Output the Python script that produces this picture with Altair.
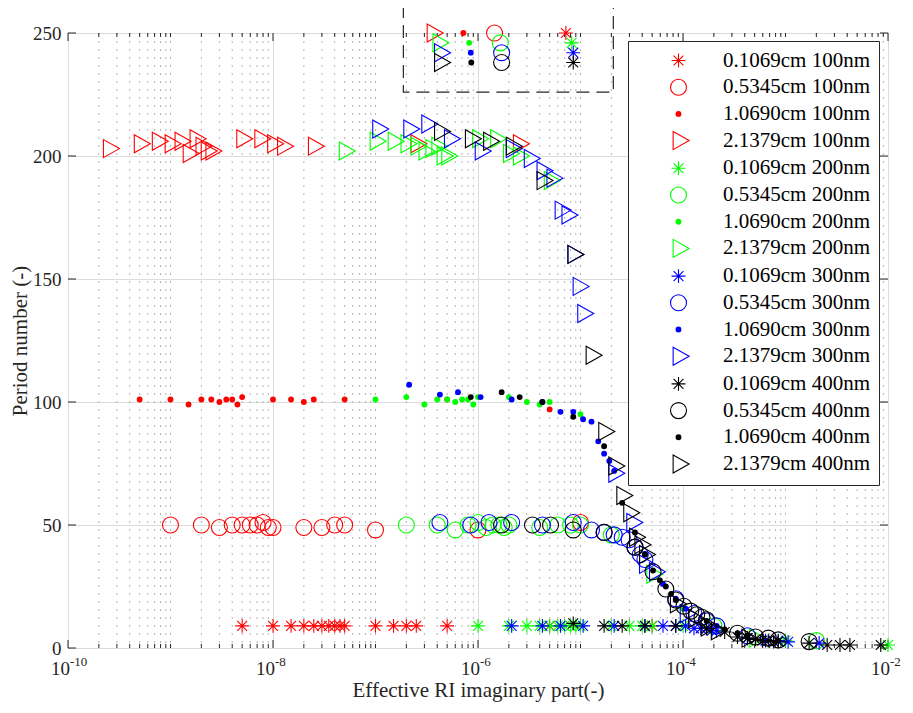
import altair as alt
import pandas as pd

# ---------------- data ----------------
series_names = [
    "0.1069cm 100nm", "0.5345cm 100nm", "1.0690cm 100nm", "2.1379cm 100nm",
    "0.1069cm 200nm", "0.5345cm 200nm", "1.0690cm 200nm", "2.1379cm 200nm",
    "0.1069cm 300nm", "0.5345cm 300nm", "1.0690cm 300nm", "2.1379cm 300nm",
    "0.1069cm 400nm", "0.5345cm 400nm", "1.0690cm 400nm", "2.1379cm 400nm",
]
series_colors = [
    "#ff0000", "#ff0000", "#ff0000", "#ff0000",
    "#00ff00", "#00ff00", "#00ff00", "#00ff00",
    "#0000ff", "#0000ff", "#0000ff", "#0000ff",
    "#000000", "#000000", "#000000", "#000000",
]

# 100 nm (red)
r_star_x = [5e-9, 1e-8, 1.5e-8, 2e-8, 2.5e-8, 3e-8, 3.5e-8, 4e-8, 4.5e-8, 5e-8, 1e-7, 1.5e-7, 2e-7, 2.5e-7, 5e-7, 5e-6, 5e-5]
r_star_y = [9, 9, 9, 9, 9, 9, 9, 9, 9, 9, 9, 9, 9, 9, 9, 9, 9]
r_circ_x = [1e-9, 2e-9, 3e-9, 4e-9, 5e-9, 6e-9, 7e-9, 8e-9, 9e-9, 1e-8, 2e-8, 3e-8, 4e-8, 5e-8, 1e-7, 1e-6, 1e-5]
r_circ_y = [50, 50, 49, 50, 50, 50, 50, 51, 49, 49, 49, 49, 50, 50, 48, 48, 51]
r_dot_x = [5e-10, 1e-9, 1.5e-9, 2e-9, 2.5e-9, 3e-9, 3.5e-9, 4e-9, 4.5e-9, 5e-9, 1e-8, 1.5e-8, 2e-8, 2.5e-8, 5e-8, 5e-7, 5e-6]
r_dot_y = [101, 101, 99, 101, 101, 100, 101, 101, 99, 102, 101, 101, 100, 101, 101, 101, 97]
r_tri_x = [2.5e-10, 5e-10, 7.5e-10, 1e-9, 1.25e-9, 1.5e-9, 1.75e-9, 2e-9, 2.25e-9, 2.5e-9, 5e-9, 7.5e-9, 1e-8, 1.25e-8, 2.5e-8, 2.5e-7, 2.5e-6]
r_tri_y = [203, 205, 206, 205, 206, 201, 207, 204, 202, 202, 207, 207, 205, 204, 204, 205, 205]

# 200 nm (green)
g_star_x = [1e-6, 2e-6, 3e-6, 4e-6, 5e-6, 6e-6, 7e-6, 8e-6, 9e-6, 1e-5, 2e-5, 3e-5, 4e-5, 5e-5, 1e-4, 1e-3, 1e-2]
g_star_y = [9, 9, 9, 9, 9, 9, 9, 9, 9, 9, 9, 9, 9, 9, 9, 3, 1.2]
g_circ_x = [2e-7, 4e-7, 6e-7, 8e-7, 1e-6, 1.2e-6, 1.4e-6, 1.6e-6, 1.8e-6, 2e-6, 4e-6, 6e-6, 8e-6, 1e-5, 2e-5, 2e-4, 2e-3]
g_circ_y = [50, 50, 48, 50, 51, 49, 50, 50, 49, 50, 49, 50, 50, 50, 46, 9, 3]
g_dot_x = [1e-7, 2e-7, 3e-7, 4e-7, 5e-7, 6e-7, 7e-7, 8e-7, 9e-7, 1e-6, 2e-6, 3e-6, 4e-6, 5e-6, 1e-5, 1e-4, 1e-3]
g_dot_y = [101, 102, 99, 101, 101, 100, 101, 101, 99, 102, 102, 100, 99, 100, 95, 16, 3]
g_tri_x = [5e-8, 1e-7, 1.5e-7, 2e-7, 2.5e-7, 3e-7, 3.5e-7, 4e-7, 4.5e-7, 5e-7, 1e-6, 1.5e-6, 2e-6, 2.5e-6, 5e-6, 5e-5, 5e-4]
g_tri_y = [202, 206, 206, 205, 204, 202, 203, 204, 200, 200, 207, 207, 201, 200, 190, 30, 4]

# 300 nm (blue)
b_star_x = [2.13e-6, 4.25e-6, 6.38e-6, 1.06e-5, 2.13e-5, 4.25e-5, 6.38e-5, 8.5e-5, 1.06e-4, 1.28e-4, 1.49e-4, 1.7e-4, 1.91e-4, 2.13e-4, 4.25e-4, 6.38e-4, 8.5e-4, 1.06e-3, 2.13e-3]
b_star_y = [9, 9, 9, 9, 9, 9, 9, 9, 9, 8, 8, 8, 7, 7, 4, 3, 3, 2.5, 2]
b_circ_x = [4.25e-7, 8.5e-7, 1.28e-6, 2.13e-6, 4.25e-6, 8.5e-6, 1.28e-5, 1.7e-5, 2.13e-5, 2.55e-5, 2.98e-5, 3.4e-5, 3.83e-5, 4.25e-5, 8.5e-5, 1.28e-4, 1.7e-4, 2.13e-4, 4.25e-4]
b_circ_y = [51, 50, 51, 51, 50, 51, 48, 47, 46, 45, 44, 41, 38, 36, 20, 14, 11, 9, 5]
b_dot_x = [2.13e-7, 4.25e-7, 6.38e-7, 1.06e-6, 2.13e-6, 4.25e-6, 6.38e-6, 8.5e-6, 1.06e-5, 1.28e-5, 1.49e-5, 1.7e-5, 1.91e-5, 2.13e-5, 4.25e-5, 6.38e-5, 8.5e-5, 1.06e-4, 2.13e-4]
b_dot_y = [107, 103, 104, 102, 101, 100, 96, 96, 93, 92, 84, 79, 76, 72, 38, 26, 20, 16, 9]
b_tri_x = [1.06e-7, 2.13e-7, 3.19e-7, 5.31e-7, 1.06e-6, 2.13e-6, 3.19e-6, 4.25e-6, 5.31e-6, 6.38e-6, 7.44e-6, 8.5e-6, 9.56e-6, 1.06e-5, 2.13e-5, 3.19e-5, 4.25e-5, 5.31e-5, 1.06e-4]
b_tri_y = [211, 211, 213, 207, 202, 203, 199, 194, 191, 178, 176, 160, 147, 136, 71, 51, 34, 31, 14]

# 400 nm (black)
k_star_x = [8.5e-6, 1.7e-5, 2.55e-5, 4.25e-5, 8.5e-5, 1.7e-4, 2.55e-4, 3.4e-4, 4.25e-4, 5.1e-4, 5.95e-4, 6.8e-4, 7.65e-4, 8.5e-4, 1.7e-3, 2.55e-3, 3.4e-3, 4.25e-3, 8.5e-3]
k_star_y = [10, 9, 9, 9, 9, 8, 6.5, 4.5, 4, 3.5, 3, 3, 2.6, 2.6, 2, 1.2, 1.2, 1.2, 1.2]
k_circ_x = [1.7e-6, 3.4e-6, 5.1e-6, 8.5e-6, 1.7e-5, 3.4e-5, 5.1e-5, 6.8e-5, 8.5e-5, 1.02e-4, 1.19e-4, 1.36e-4, 1.53e-4, 1.7e-4, 3.4e-4, 5.1e-4, 6.8e-4, 8.5e-4, 1.7e-3]
k_circ_y = [50, 50, 50, 48, 47, 41, 31, 24, 19.5, 17, 15, 13.5, 12.5, 11.5, 6, 4.5, 4, 3.3, 2.6]
k_dot_x = [8.5e-7, 1.7e-6, 2.55e-6, 4.25e-6, 8.5e-6, 1.7e-5, 2.55e-5, 3.4e-5, 4.25e-5, 5.1e-5, 5.95e-5, 6.8e-5, 7.65e-5, 8.5e-5, 1.7e-4, 2.55e-4, 3.4e-4, 4.25e-4, 8.5e-4]
k_dot_y = [102, 104, 102, 100, 94, 82, 59, 47, 38, 31.5, 27.5, 25, 22, 19.5, 11, 7.5, 6, 5, 3]
k_tri_x = [4.25e-7, 8.5e-7, 1.28e-6, 2.13e-6, 4.25e-6, 8.5e-6, 1.28e-5, 1.7e-5, 2.13e-5, 2.55e-5, 2.98e-5, 3.4e-5, 3.83e-5, 4.25e-5, 8.5e-5, 1.28e-4, 1.7e-4, 2.13e-4, 4.25e-4]
k_tri_y = [210, 207, 206, 204, 190, 160, 119, 88, 74, 62, 55, 45, 42, 38, 18, 12, 8.5, 7, 4]

# markers inside the dashed box at the top (one per series, same order as series_names)
inset_x = [7.2e-6, 1.45e-6, 7.2e-7, 3.6e-7,
           8.2e-6, 1.65e-6, 8.2e-7, 4.1e-7,
           8.5e-6, 1.7e-6, 8.5e-7, 4.25e-7,
           8.5e-6, 1.7e-6, 8.6e-7, 4.25e-7]
inset_y = [250, 250, 250, 250,
           246, 246, 246, 246,
           242, 242, 242, 242,
           238, 238, 238, 238]
# dashed box extent (data units)
box_x = [1.87e-7, 2.09e-5]
box_y = [226, 261]

x_major = [1e-10, 1e-8, 1e-6, 1e-4, 1e-2]
x_major_exp = ["-10", "-8", "-6", "-4", "-2"]
y_major = [0, 50, 100, 150, 200, 250]

# ---------------- build table ----------------
series_xy = [
    (r_star_x, r_star_y), (r_circ_x, r_circ_y), (r_dot_x, r_dot_y), (r_tri_x, r_tri_y),
    (g_star_x, g_star_y), (g_circ_x, g_circ_y), (g_dot_x, g_dot_y), (g_tri_x, g_tri_y),
    (b_star_x, b_star_y), (b_circ_x, b_circ_y), (b_dot_x, b_dot_y), (b_tri_x, b_tri_y),
    (k_star_x, k_star_y), (k_circ_x, k_circ_y), (k_dot_x, k_dot_y), (k_tri_x, k_tri_y),
]
rows = []
for name, (xs, ys) in zip(series_names, series_xy):
    for xv, yv in zip(xs, ys):
        rows.append({"series": name, "x": xv, "y": yv})
for name, xv, yv in zip(series_names, inset_x, inset_y):
    rows.append({"series": name, "x": xv, "y": yv})
df = pd.DataFrame(rows)

minor_vals = [m * 10.0 ** k for k in range(-10, -2) for m in range(1, 10)
              if not (m == 1 and k % 2 == 0)]
minor_df = pd.DataFrame({"v": minor_vals})
xmaj_df = pd.DataFrame({"v": x_major, "exp": x_major_exp})
ymaj_df = pd.DataFrame({"v": y_major})
rect_df = pd.DataFrame({"x1": [box_x[0]], "x2": [box_x[1]], "y1": [box_y[0]], "y2": [box_y[1]]})

# ---------------- styles ----------------
W, H = 820, 615
AX = "#262626"
FONT = "Liberation Serif"

STAR = "M0,-0.82L0,0.82M-0.82,0L0.82,0M-0.58,-0.58L0.58,0.58M-0.58,0.58L0.58,-0.58"
CIRC = "M0.94,0A0.94,0.94,0,1,1,-0.94,0A0.94,0.94,0,1,1,0.94,0Z"
DOT = ("M0.28,0A0.28,0.28,0,1,1,-0.28,0A0.28,0.28,0,1,1,0.28,0Z"
       "M0.16,0A0.16,0.16,0,1,1,-0.16,0A0.16,0.16,0,1,1,0.16,0Z"
       "M0.05,0A0.05,0.05,0,1,1,-0.05,0A0.05,0.05,0,1,1,0.05,0Z")
TRI = "M-0.63,-1.06L1.25,0L-0.63,1.06Z"
series_shapes = [STAR, CIRC, DOT, TRI] * 4

xscale = alt.Scale(type="log", domain=[1e-10, 1e-2], nice=False)
yscale = alt.Scale(domain=[0, 250], nice=False, zero=False)

ax_x = alt.Axis(values=x_major, labels=False, grid=True, gridColor="#dcdcdc", gridWidth=1,
                domain=False, ticks=False, tickSize=0,
                title="Effective RI imaginary part(-)", titleFont=FONT, titleFontSize=21,
                titleFontWeight="normal", titleColor=AX, titlePadding=31)
ax_y = alt.Axis(values=y_major, grid=True, gridColor="#dcdcdc", gridWidth=1, domain=False,
                ticks=False, tickSize=0, labelFont=FONT, labelFontSize=19, labelColor=AX,
                labelPadding=7, labelFlush=False,
                title="Period number (-)", titleFont=FONT, titleFontSize=21,
                titleFontWeight="normal", titleColor=AX, titlePadding=2)

leg = alt.Legend(title=None, orient="none", legendX=560, legendY=8, direction="vertical",
                 fillColor="white", strokeColor=AX, padding=9, symbolSize=289,
                 symbolStrokeWidth=1.1, symbolOffset=31, labelOffset=34,
                 labelFont=FONT, labelFontSize=21, labelColor="#000000", labelLimit=400,
                 rowPadding=4.7)

# ---------------- layers ----------------
minor_grid = alt.Chart(minor_df).mark_rule(color="#b4b4b4", strokeDash=[2, 6], strokeWidth=1).encode(
    x=alt.X("v:Q", scale=xscale, axis=ax_x))


def xticks(d, length):
    bot = alt.Chart(d).mark_rule(color=AX, strokeWidth=1).encode(
        x=alt.X("v:Q", scale=xscale, axis=ax_x), y=alt.value(H), y2=alt.value(H - length))
    top = alt.Chart(d).mark_rule(color=AX, strokeWidth=1).encode(
        x=alt.X("v:Q", scale=xscale, axis=ax_x), y=alt.value(0), y2=alt.value(length))
    return [bot, top]


yt_left = alt.Chart(ymaj_df).mark_rule(color=AX, strokeWidth=1).encode(
    y=alt.Y("v:Q", scale=yscale, axis=ax_y), x=alt.value(0), x2=alt.value(8))
yt_right = alt.Chart(ymaj_df).mark_rule(color=AX, strokeWidth=1).encode(
    y=alt.Y("v:Q", scale=yscale, axis=ax_y), x=alt.value(W), x2=alt.value(W - 8))

# x tick labels "10" with a raised exponent
xlab_base = alt.Chart(xmaj_df).mark_text(text="10", align="right", baseline="alphabetic", font=FONT,
                                         fontSize=19, color=AX, dx=2, clip=False).encode(
    x=alt.X("v:Q", scale=xscale, axis=ax_x), y=alt.value(H + 27))
xlab_exp = alt.Chart(xmaj_df).mark_text(align="left", baseline="alphabetic", font=FONT,
                                        fontSize=13, color=AX, dx=2, clip=False).encode(
    x=alt.X("v:Q", scale=xscale, axis=ax_x), y=alt.value(H + 18), text="exp:N")

box = alt.Chart(rect_df).mark_rect(filled=False, stroke=AX, strokeWidth=1.2,
                                   strokeDash=[13, 7], clip=False).encode(
    x=alt.X("x1:Q", scale=xscale, axis=ax_x), x2="x2:Q",
    y=alt.Y("y1:Q", scale=yscale, axis=ax_y), y2="y2:Q")

points = alt.Chart(df).mark_point(filled=False, size=289, strokeWidth=1.1, opacity=1,
                                  clip=False).encode(
    x=alt.X("x:Q", scale=xscale, axis=ax_x),
    y=alt.Y("y:Q", scale=yscale, axis=ax_y),
    color=alt.Color("series:N", scale=alt.Scale(domain=series_names, range=series_colors), legend=leg),
    shape=alt.Shape("series:N", scale=alt.Scale(domain=series_names, range=series_shapes), legend=leg),
)

layers = ([minor_grid] + xticks(minor_df, 4) + xticks(xmaj_df, 8) +
          [yt_left, yt_right, xlab_base, xlab_exp, box, points])

chart = alt.layer(*layers).properties(
    width=W, height=H,
    autosize=alt.AutoSizeParams(type="none"),
    padding={"left": 60, "top": 25, "right": 17, "bottom": 57},
    background="white",
).configure(font=FONT).configure_view(stroke=AX, strokeWidth=1)

chart.save("out.html", embed_options={"renderer": "svg", "actions": False})
